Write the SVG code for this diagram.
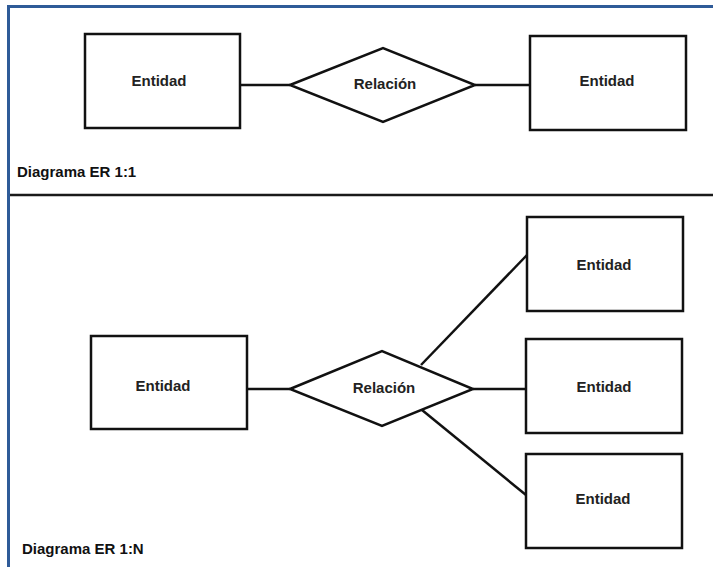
<svg xmlns="http://www.w3.org/2000/svg" width="713" height="567" viewBox="0 0 713 567">
  <style>
    .frame { fill: none; stroke: #2f5b98; stroke-width: 3; }
    .divider { stroke: #1a1a1a; stroke-width: 2.5; }
    .entity { fill: #ffffff; stroke: #111111; stroke-width: 2.5; }
    .relation { fill: #ffffff; stroke: #111111; stroke-width: 2.5; stroke-linejoin: miter; }
    .edge { stroke: #111111; stroke-width: 2.5; fill: none; }
    .label { font-family: "Liberation Sans", Arial, sans-serif; font-weight: bold; font-size: 15px; fill: #222222; text-anchor: middle; dominant-baseline: central; }
    .caption { font-family: "Liberation Sans", Arial, sans-serif; font-weight: bold; font-size: 15px; fill: #111111; }
  </style>

  <rect x="0" y="0" width="713" height="567" fill="#ffffff"/>

  <!-- outer frame (left and top edges) and section divider -->
  <g id="frame">
    <polyline class="frame" points="8.5,567 8.5,6.5 713,6.5"/>
    <line class="divider" x1="10" y1="195" x2="713" y2="195"/>
  </g>

  <!-- connectors -->
  <g id="connectors">
    <line class="edge" x1="240" y1="85" x2="290" y2="85"/>
    <line class="edge" x1="475" y1="85" x2="531" y2="85"/>
    <line class="edge" x1="247" y1="389" x2="290" y2="389"/>
    <line class="edge" x1="421" y1="365" x2="527" y2="255"/>
    <line class="edge" x1="473" y1="389" x2="527" y2="389"/>
    <line class="edge" x1="422" y1="410" x2="526" y2="495"/>
  </g>

  <!-- 1:1 section -->
  <g id="e11-left">
    <rect class="entity" x="85" y="34" width="155" height="94"/>
    <text class="label" x="159" y="80">Entidad</text>
  </g>
  <g id="r11">
    <polygon class="relation" points="290,85 383,48 475,85 383,122"/>
    <text class="label" x="385" y="83">Relación</text>
  </g>
  <g id="e11-right">
    <rect class="entity" x="530" y="36" width="156" height="94"/>
    <text class="label" x="607" y="80">Entidad</text>
  </g>
  <text id="caption-11" class="caption" x="17" y="177">Diagrama ER 1:1</text>

  <!-- 1:N section -->
  <g id="e1n-left">
    <rect class="entity" x="91" y="336" width="156" height="93"/>
    <text class="label" x="163" y="385">Entidad</text>
  </g>
  <g id="r1n">
    <polygon class="relation" points="290,389 382,351 473,389 382,426"/>
    <text class="label" x="384" y="387">Relación</text>
  </g>
  <g id="e1n-top">
    <rect class="entity" x="527" y="217" width="156" height="94"/>
    <text class="label" x="604" y="264">Entidad</text>
  </g>
  <g id="e1n-mid">
    <rect class="entity" x="526" y="339" width="156" height="94"/>
    <text class="label" x="604" y="386">Entidad</text>
  </g>
  <g id="e1n-bottom">
    <rect class="entity" x="526" y="454" width="156" height="94"/>
    <text class="label" x="603" y="498">Entidad</text>
  </g>
  <text id="caption-1n" class="caption" x="22" y="554">Diagrama ER 1:N</text>
</svg>
